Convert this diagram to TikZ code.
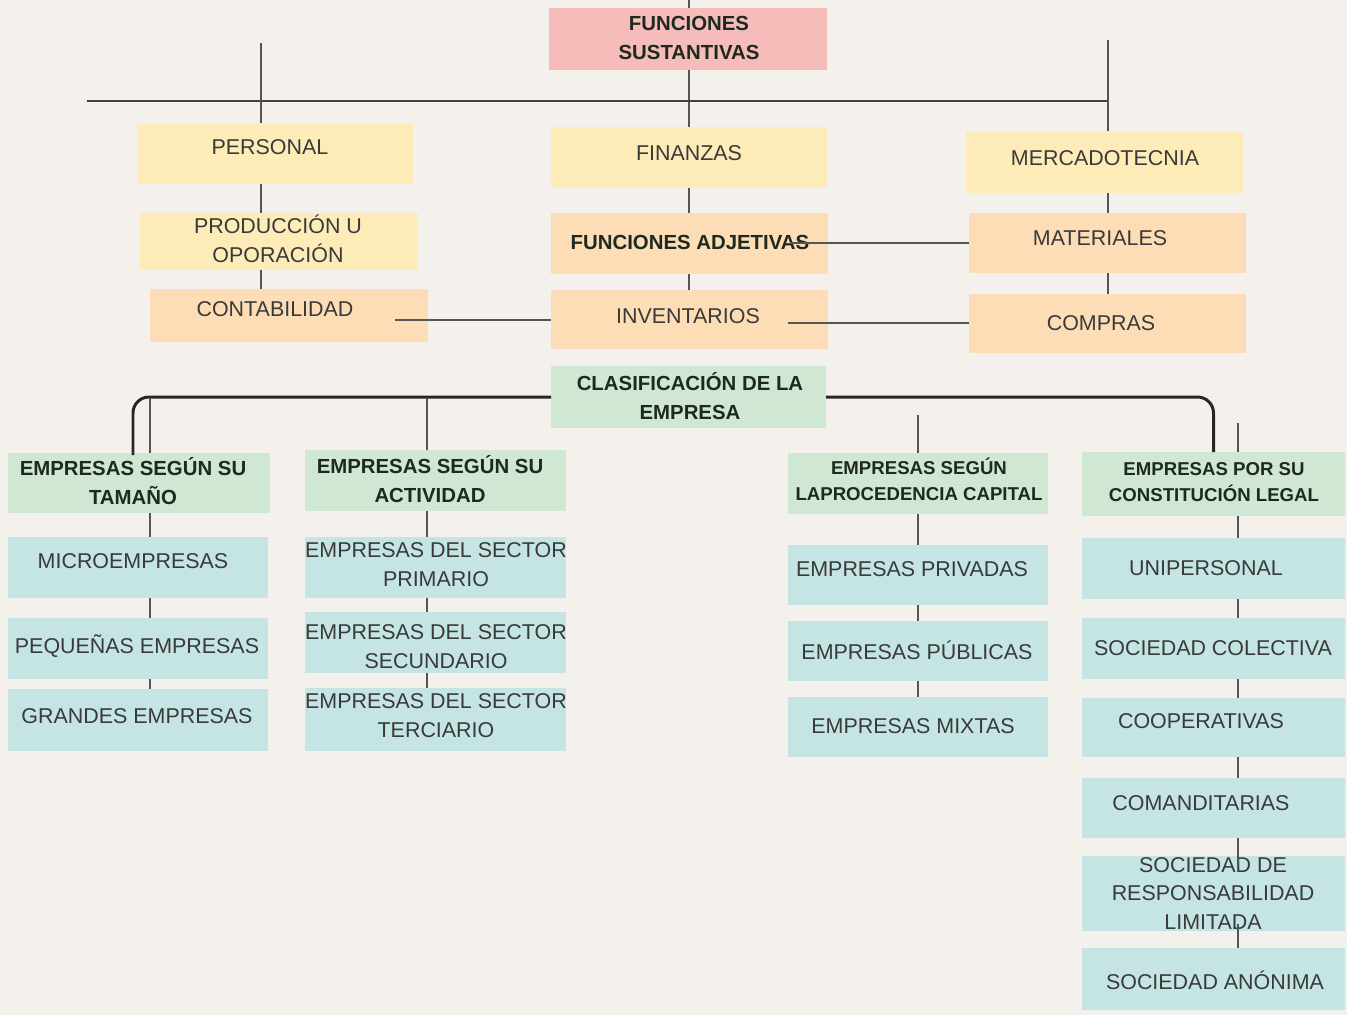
\documentclass[tikz,border=0pt]{standalone}
\usepackage{fontspec}
\setmainfont{Liberation Sans}
\definecolor{bgc}{HTML}{F4F1EC}
\definecolor{pinkc}{HTML}{F5BCBA}
\definecolor{ylwc}{HTML}{FDEBB8}
\definecolor{peachc}{HTML}{FCDDB6}
\definecolor{greenc}{HTML}{D0E8D3}
\definecolor{bluec}{HTML}{C5E4E4}
\definecolor{txtc}{HTML}{3A3A3A}
\definecolor{bldc}{HTML}{1E2A20}
\definecolor{lnc}{HTML}{555555}
\newcommand\mybox[6]{\node[boxst,fill=#6,minimum width={(#4-#2)*0.02cm},minimum height={(#5-#3)*0.02cm}] (#1) at ({(#2+#4)/2},{(#3+#5)/2}) {};}
\newcommand\mytext[5]{\node[#2] (#1) at (#3,#4) {#5};}
\begin{document}
\begin{tikzpicture}[x=0.02cm,y=-0.02cm,
  boxst/.style={rectangle,draw=none,inner sep=0pt,outer sep=0pt},
  reg/.style={font=\fontsize{12.2}{16.5}\selectfont,text=txtc,align=center,inner sep=0pt},
  bld/.style={font=\fontsize{11.6}{16.5}\selectfont\bfseries,text=bldc,align=center,inner sep=0pt},
  bldsm/.style={font=\fontsize{10.6}{14.8}\selectfont\bfseries,text=bldc,align=center,inner sep=0pt},
  lnk/.style={draw=lnc,line width=0.8pt},
  bar/.style={draw=black!75,line width=0.9pt},
  thk/.style={draw=black!85,line width=1.7pt,rounded corners=0.32cm}]
\useasboundingbox[fill=bgc] (0,0) rectangle (1347,1015);
% ---- boxes
\mybox{fs}{549}{8}{827}{70}{pinkc}
\mybox{per}{137}{123}{413}{184}{ylwc}
\mybox{pro}{140}{213}{418}{270}{ylwc}
\mybox{con}{150}{289}{428}{342}{peachc}
\mybox{fin}{551}{127}{827}{188}{ylwc}
\mybox{fa}{551}{213}{828}{274}{peachc}
\mybox{inv}{551}{290}{828}{349}{peachc}
\mybox{mer}{966}{131}{1243}{193}{ylwc}
\mybox{mat}{969}{213}{1246}{273}{peachc}
\mybox{com}{969}{294}{1246}{353}{peachc}
\mybox{cla}{551}{366}{826}{428}{greenc}
\mybox{tam}{8}{453}{270}{513}{greenc}
\mybox{act}{305}{450}{566}{511}{greenc}
\mybox{prc}{788}{453}{1048}{514}{greenc}
\mybox{cst}{1082}{452}{1345}{516}{greenc}
\mybox{mic}{8}{537}{268}{598}{bluec}
\mybox{peq}{8}{618}{268}{679}{bluec}
\mybox{gra}{8}{689}{268}{751}{bluec}
\mybox{pri}{305}{537}{566}{598}{bluec}
\mybox{sec}{305}{612}{566}{673}{bluec}
\mybox{ter}{305}{688}{566}{751}{bluec}
\mybox{pvd}{788}{545}{1048}{605}{bluec}
\mybox{pub}{788}{621}{1048}{681}{bluec}
\mybox{mix}{788}{697}{1048}{757}{bluec}
\mybox{uni}{1082}{538}{1345}{599}{bluec}
\mybox{col}{1082}{618}{1345}{679}{bluec}
\mybox{coo}{1082}{698}{1345}{757}{bluec}
\mybox{cmd}{1082}{778}{1345}{838}{bluec}
\mybox{srl}{1082}{856}{1345}{931}{bluec}
\mybox{san}{1082}{948}{1345}{1010}{bluec}
% ---- free-end coordinates
\coordinate (top) at (689,0);
\coordinate (barL) at (87,101);
\coordinate (barR) at (1108,101);
\coordinate (vp) at (261,43);
\coordinate (vm) at (1108,40);
\coordinate (vf) at (689,0);
\coordinate (cL) at (395,320);
\coordinate (faR) at (790,243);
\coordinate (invR) at (788,323);
\coordinate (tcorn) at (133,455);
\coordinate (a1) at (150,398);
\coordinate (a2) at (427,398);
\coordinate (a3) at (918,415);
\coordinate (a4) at (1238,423);
% ---- connectors
\draw[lnk] (top) -- (vf |- fs.north);
\draw[lnk] (vf |- fs.south) -- (vf |- fin.north);
\draw[bar] (barL) -- (barR);
\draw[lnk] (vp) -- (vp |- per.north);
\draw[lnk] (vp |- per.south) -- (vp |- pro.north);
\draw[lnk] (vp |- pro.south) -- (vp |- con.north);
\draw[lnk] (vm) -- (vm |- mer.north);
\draw[lnk] (vm |- mer.south) -- (vm |- mat.north);
\draw[lnk] (vm |- mat.south) -- (vm |- com.north);
\draw[lnk] (vf |- fin.south) -- (vf |- fa.north);
\draw[lnk] (vf |- fa.south) -- (vf |- inv.north);
\draw[lnk] (cL) -- (cL -| inv.west);
\draw[lnk] (invR) -- (invR -| com.west);
\draw[thk] (cla.west) -| (tcorn);
\draw[thk] (cla.east) -| (cst.north);
\draw[lnk] (a1) -- (a1 |- tam.north);
\draw[lnk] (a1 |- tam.south) -- (a1 |- mic.north);
\draw[lnk] (a1 |- mic.south) -- (a1 |- peq.north);
\draw[lnk] (a1 |- peq.south) -- (a1 |- gra.north);
\draw[lnk] (a2) -- (a2 |- act.north);
\draw[lnk] (a2 |- act.south) -- (a2 |- pri.north);
\draw[lnk] (a2 |- pri.south) -- (a2 |- sec.north);
\draw[lnk] (a2 |- sec.south) -- (a2 |- ter.north);
\draw[lnk] (a3) -- (a3 |- prc.north);
\draw[lnk] (a3 |- prc.south) -- (a3 |- pvd.north);
\draw[lnk] (a3 |- pvd.south) -- (a3 |- pub.north);
\draw[lnk] (a3 |- pub.south) -- (a3 |- mix.north);
\draw[lnk] (a4) -- (a4 |- cst.north);
\draw[lnk] (a4 |- cst.south) -- (a4 |- uni.north);
\draw[lnk] (a4 |- uni.south) -- (a4 |- col.north);
\draw[lnk] (a4 |- col.south) -- (a4 |- coo.north);
\draw[lnk] (a4 |- coo.south) -- (a4 |- cmd.north);
% ---- texts
\mytext{tfs}{bld}{689}{37.5}{FUNCIONES\\SUSTANTIVAS}
\mytext{tper}{reg}{270}{147}{PERSONAL}
\mytext{tpro}{reg}{278}{238.5}{PRODUCCIÓN U\\OPORACIÓN}
\mytext{tcon}{reg}{275}{309}{CONTABILIDAD}
\mytext{tfin}{reg}{689}{153}{FINANZAS}
\mytext{tfa}{bld}{690}{242}{FUNCIONES ADJETIVAS}
\mytext{tinv}{reg}{688}{316}{INVENTARIOS}
\mytext{tmer}{reg}{1105}{158}{MERCADOTECNIA}
\mytext{tmat}{reg}{1100}{238}{MATERIALES}
\mytext{tcom}{reg}{1101}{323}{COMPRAS}
\mytext{tcla}{bld}{690}{396.5}{CLASIFICACIÓN DE LA\\EMPRESA}
\mytext{ttam}{bld}{133}{481.5}{EMPRESAS SEGÚN SU\\TAMAÑO}
\mytext{tact}{bld}{430}{479.5}{EMPRESAS SEGÚN SU\\ACTIVIDAD}
\mytext{tprc}{bldsm}{919}{479}{EMPRESAS SEGÚN\\LAPROCEDENCIA CAPITAL}
\mytext{tcst}{bldsm}{1214}{482}{EMPRESAS POR SU\\CONSTITUCIÓN LEGAL}
\mytext{tmic}{reg}{133}{561}{MICROEMPRESAS}
\mytext{tpeq}{reg}{137}{646}{PEQUEÑAS EMPRESAS}
\mytext{tgra}{reg}{137}{716}{GRANDES EMPRESAS}
\mytext{tpri}{reg}{436}{564.5}{EMPRESAS DEL SECTOR\\PRIMARIO}
\mytext{tsec}{reg}{436}{646.5}{EMPRESAS DEL SECTOR\\SECUNDARIO}
\mytext{tter}{reg}{436}{715.5}{EMPRESAS DEL SECTOR\\TERCIARIO}
\mytext{tpvd}{reg}{912}{569}{EMPRESAS PRIVADAS}
\mytext{tpub}{reg}{917}{650}{EMPRESAS PÚBLICAS}
\mytext{tmix}{reg}{913}{726}{EMPRESAS MIXTAS}
\mytext{tuni}{reg}{1206}{568}{UNIPERSONAL}
\mytext{tcol}{reg}{1213}{648}{SOCIEDAD COLECTIVA}
\mytext{tcoo}{reg}{1201}{721}{COOPERATIVAS}
\mytext{tcmd}{reg}{1201}{803}{COMANDITARIAS}
\mytext{tsrl}{reg}{1213}{893.5}{SOCIEDAD DE\\RESPONSABILIDAD\\LIMITADA}
\mytext{tsan}{reg}{1215}{980}{SOCIEDAD ANÓNIMA}
% ---- connectors drawn over texts
\draw[lnk] (faR) -- (faR -| mat.west);
\draw[lnk] (a4 |- cmd.south) -- (1238,864);
\draw[lnk] (1238,924) -- (a4 |- san.north);
\end{tikzpicture}
\end{document}
